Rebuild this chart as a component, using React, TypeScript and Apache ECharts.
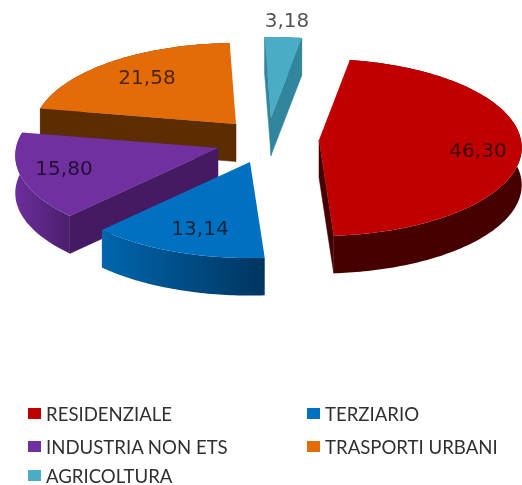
import React, { useEffect, useRef } from "react";
import * as echarts from "echarts";

const names = ["RESIDENZIALE", "TERZIARIO", "INDUSTRIA NON ETS", "TRASPORTI URBANI", "AGRICOLTURA"];
const values = [46.3, 13.14, 15.8, 21.58, 3.18];
const topColors = ["#c00000", "#0070c0", "#7030a0", "#e36c09", "#4bacc6"];
const bandColors = [
  ["#460000", "#460000"],
  ["#0066ad", "#003560"],
  ["#6d2e9c", "#4a1e6c"],
  ["#5c2d00", "#5c2d00"],
  ["#31859c", "#31859c"],
];
const cutColors = ["#460000", "#003560", "#451a63", "#5c2d00", "#31859c"];

// layout of the exploded 3D pie
const apexes = [[319, 140], [250, 162], [218, 148], [236, 124], [271, 118]];
const labelPos = [[478, 150], [200, 228], [64, 168], [147, 77], [287, 20]];
const drawOrder = [3, 4, 0, 2, 1];
const legendPos = [[28, 413], [307, 413], [28, 446], [307, 446], [28, 475]];
const START_DEG = 9.5;
const RX = 202;
const RY = 87.9;
const PERSP = 0.085;
const DEPTH = 37.5;

function project(apex: number[], deg: number) {
  const t = (deg * Math.PI) / 180;
  const w = 1 / (1 + PERSP * Math.cos(t));
  return [apex[0] + RX * Math.sin(t) * w, apex[1] - RY * Math.cos(t) * w];
}
const down = (p: number[]) => [p[0], p[1] + DEPTH];

function sliceRenderer(idx: number) {
  return (_params: any, api: any) => {
    const total = values.reduce((a, b) => a + b, 0);
    const before = values.slice(0, idx).reduce((a, b) => a + b, 0);
    const a0 = START_DEG + (before / total) * 360;
    const a1 = a0 + (api.value(0) / total) * 360;
    const apex = apexes[idx];
    const arc: number[][] = [];
    const steps = Math.max(4, Math.ceil(a1 - a0));
    for (let i = 0; i <= steps; i++) arc.push(project(apex, a0 + ((a1 - a0) * i) / steps));

    const children: any[] = [];
    const cut = (p: number[], interiorSign: number) => {
      // the cut face shows only when the extrusion points out of the slice
      const dx = p[0] - apex[0];
      if (interiorSign * dx * DEPTH > 0) {
        children.push({
          type: "polygon",
          shape: { points: [apex, p, down(p), down(apex)] },
          style: { fill: cutColors[idx], stroke: cutColors[idx], lineWidth: 0.5 },
        });
      }
    };
    cut(arc[0], -1);
    cut(arc[arc.length - 1], 1);

    const xs = arc.map((p) => p[0]);
    const band = arc.concat(arc.map(down).reverse());
    children.push({
      type: "polygon",
      shape: { points: band },
      style: {
        fill: {
          type: "linear",
          global: true,
          x: Math.min(...xs),
          y: 0,
          x2: Math.max(...xs),
          y2: 0,
          colorStops: [
            { offset: 0, color: bandColors[idx][0] },
            { offset: 1, color: bandColors[idx][1] },
          ],
        },
      },
    });
    children.push({
      type: "polygon",
      shape: { points: [apex].concat(arc) },
      style: { fill: topColors[idx] },
    });
    children.push({
      type: "text",
      style: {
        text: api.value(0).toFixed(2).replace(".", ","),
        x: labelPos[idx][0],
        y: labelPos[idx][1],
        align: "center",
        verticalAlign: "middle",
        fill: "rgba(0,0,0,0.68)",
        fontSize: 20,
        fontFamily: "DejaVu Sans",
      },
    });
    return { type: "group", children };
  };
}

export default function App() {
  const ref = useRef<HTMLDivElement>(null);
  useEffect(() => {
    const chart = echarts.init(ref.current!, undefined, { renderer: "svg" });
    chart.setOption({
      animation: false,
      backgroundColor: "#ffffff",
      legend: names.map((name, i) => ({
        show: true,
        data: [{ name, itemStyle: { color: topColors[i] } }],
        selectedMode: false,
        left: legendPos[i][0],
        top: legendPos[i][1] - 9,
        padding: 0,
        itemWidth: 13,
        itemHeight: 11,
        icon: "rect",
        textStyle: {
          fontFamily: "Lato",
          fontSize: 18.6,
          lineHeight: 18,
          color: "#303030",
        },
      })),
      series: drawOrder.map((i) => ({
        type: "custom",
        name: names[i],
        coordinateSystem: "none",
        silent: true,
        itemStyle: { color: topColors[i] },
        data: [[values[i]]],
        renderItem: sliceRenderer(i),
      })),
    });
    return () => chart.dispose();
  }, []);
  return (
    <div
      ref={ref}
      style={{ position: "absolute", left: 0, top: 0, width: 522, height: 485, filter: "blur(0.5px)" }}
    />
  );
}
